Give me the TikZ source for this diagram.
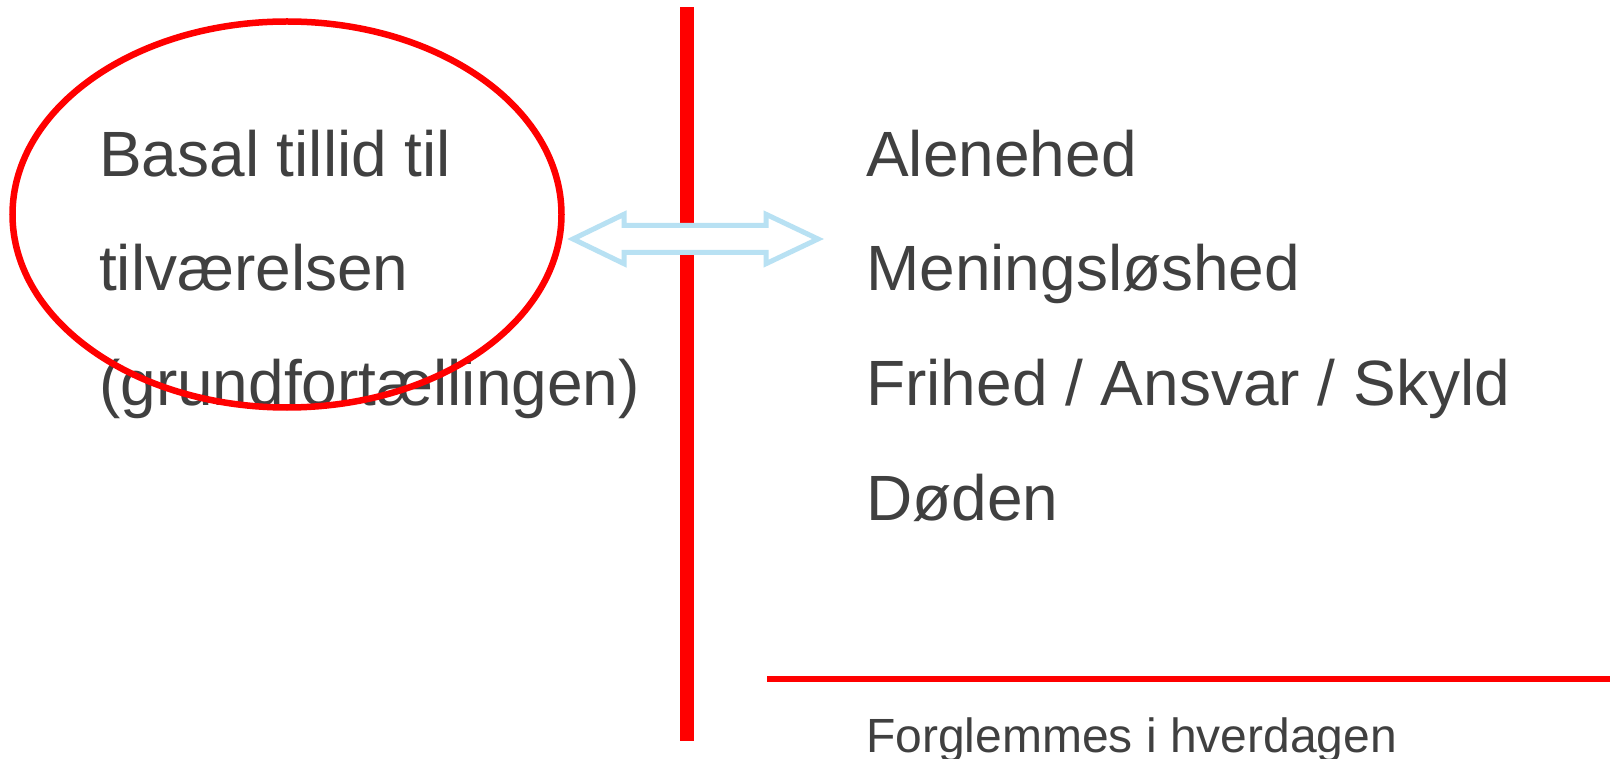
\documentclass[tikz,border=0pt]{standalone}
\usepackage{fontspec}
\setmainfont{Liberation Sans}
\usetikzlibrary{shapes.geometric}
\definecolor{txt}{RGB}{64,64,64}
\definecolor{redc}{RGB}{255,0,0}
\definecolor{arrowblue}{RGB}{184,225,243}
\tikzset{
  bigtext/.style={anchor=base west, inner sep=0pt, text=txt, font=\fontsize{64}{64}\selectfont},
  smalltext/.style={anchor=base west, inner sep=0pt, text=txt, font=\fontsize{48}{48}\selectfont},
  redline/.style={draw=redc},
  ring/.style={ellipse, draw=redc, line width=6.5pt, minimum width=549pt, minimum height=386pt, inner sep=0pt},
  dblarrow/.style={draw=arrowblue, fill=white, line width=5pt, line join=miter}
}
\begin{document}
\begin{tikzpicture}[x=1pt,y=-1pt]
\useasboundingbox[fill=white] (0,0) rectangle (1610,759);
% left texts
\node[bigtext] (b1) at (99,176.6) {Basal tillid til};
\node[bigtext] (b2) at (99,290.6) {tilværelsen};
\node[bigtext] (b3) at (99,405.6) {(grundfortællingen)};
% ellipse
\node[ring] (ring) at (287,214.5) {};
% vertical bar
\coordinate (vtop) at (687,7.2);
\coordinate (vbot) at (687,741);
\draw[redline, line width=14.4pt] (vtop) -- (vbot);
% double arrow
\draw[dblarrow] (573,239) -- (624,214.3) -- (624,225.5) -- (766,225.5) -- (766,214.3)
  -- (818,239) -- (766,263.7) -- (766,252.5) -- (624,252.5) -- (624,263.7) -- cycle;
% right texts
\node[bigtext] (r1) at (866,176.6) {Alenehed};
\node[bigtext] (r2) at (866,290.6) {Meningsløshed};
\node[bigtext] (r3) at (866,405.6) {Frihed / Ansvar / Skyld};
\node[bigtext] (r4) at (866,520.6) {Døden};
% horizontal line
\coordinate (hl) at (767,678.5);
\coordinate (hr) at (1610,678.5);
\draw[redline, line width=6pt] (hl) -- (hr);
\node[smalltext] (f1) at (866,752.5) {Forglemmes i hverdagen};
\end{tikzpicture}
\end{document}
